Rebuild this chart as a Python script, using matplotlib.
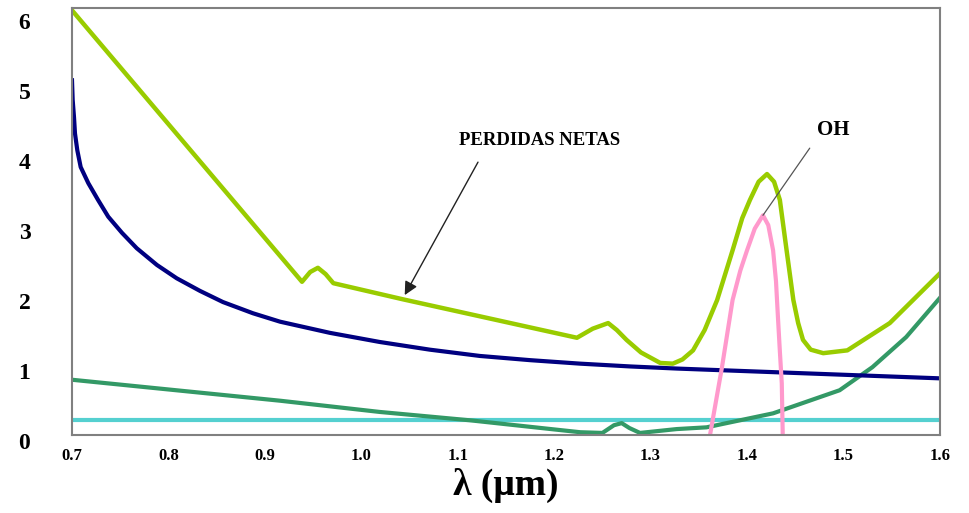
import numpy as np
import matplotlib
matplotlib.use('Agg')
import matplotlib.pyplot as plt
import matplotlib.transforms as mtransforms

SERIF = ['Liberation Serif', 'DejaVu Serif']

# perdidas netas (total)
totalX = [0.7, 0.9385, 0.947, 0.955, 0.963, 0.971, 1.043, 1.2236, 1.24, 1.256, 1.265, 1.275, 1.29, 1.31,
          1.323, 1.333, 1.344, 1.356, 1.369, 1.385, 1.395, 1.403, 1.412, 1.4207, 1.428, 1.434, 1.441,
          1.448, 1.453, 1.458, 1.466, 1.479, 1.504, 1.548, 1.6]
totalY = [6.07, 2.19, 2.33, 2.39, 2.3, 2.17, 1.94, 1.39, 1.52, 1.6, 1.5, 1.36, 1.18, 1.03,
          1.02, 1.08, 1.21, 1.5, 1.93, 2.64, 3.1, 3.36, 3.62, 3.73, 3.62, 3.36, 2.64,
          1.93, 1.6, 1.36, 1.22, 1.17, 1.21, 1.6, 2.31]

# Rayleigh
rayX = [0.7, 0.7007, 0.7021, 0.7031, 0.7055, 0.709, 0.7169, 0.727, 0.7376, 0.7518, 0.7671, 0.7881,
        0.8086, 0.8327, 0.8566, 0.8877, 0.9157, 0.9675, 1.019, 1.071, 1.123, 1.175, 1.227, 1.279,
        1.327, 1.444, 1.6]
rayY = [5.07, 4.79, 4.54, 4.31, 4.07, 3.83, 3.6, 3.36, 3.12, 2.89, 2.67, 2.43,
        2.24, 2.06, 1.90, 1.74, 1.62, 1.46, 1.33, 1.22, 1.13, 1.07, 1.02, 0.98,
        0.95, 0.89, 0.81]

# absorcion IR / UV
irX = [0.7, 0.916, 1.019, 1.113, 1.2, 1.227, 1.25, 1.262, 1.27, 1.278, 1.289, 1.327, 1.358, 1.427, 1.496,
       1.53, 1.565, 1.6]
irY = [0.79, 0.49, 0.33, 0.21, 0.08, 0.04, 0.03, 0.14, 0.17, 0.1, 0.03, 0.085, 0.11, 0.31, 0.64,
       0.97, 1.4, 1.96]

# imperfecciones (constante)
impX = [0.7, 1.6]
impY = [0.22, 0.22]

# OH
ohX = [1.3616, 1.374, 1.385, 1.393, 1.400, 1.408, 1.4165, 1.422, 1.427, 1.430, 1.432, 1.434, 1.436, 1.437]
ohY = [0.0, 0.97, 1.93, 2.35, 2.64, 2.95, 3.14, 3.0, 2.64, 2.2, 1.69, 1.2, 0.74, 0.0]

xticks = [0.7, 0.8, 0.9, 1.0, 1.1, 1.2, 1.3, 1.4, 1.5, 1.6]
xtickLabels = ['0.7', '0.8', '0.9', '1.0', '1.1', '1.2', '1.3', '1.4', '1.5', '1.6']
yticks = [0, 1, 2, 3, 4, 5, 6]

fig = plt.figure(figsize=(9.69, 5.13), dpi=100)
ax = fig.add_axes([0.0743, 0.152, 0.8957, 0.832])

ax.plot(impX, impY, color='#55d0d0', lw=3, solid_capstyle='butt')
ax.plot(irX, irY, color='#339966', lw=3)
ax.plot(rayX, rayY, color='#000080', lw=3)
ax.plot(ohX, ohY, color='#ff99cc', lw=3)
ax.plot(totalX, totalY, color='#99cc00', lw=3.2)

ax.set_xlim(0.7, 1.6)
ax.set_ylim(0, 6.1)
ax.set_xticks(xticks)
ax.set_xticklabels(xtickLabels, family=SERIF, fontweight='bold', fontsize=12)
ax.set_yticks(yticks)
ax.set_yticklabels([str(v) for v in yticks], family=SERIF, fontweight='bold', fontsize=17)
ax.tick_params(axis='y', length=0, pad=30)
ax.tick_params(axis='x', length=0, pad=9)
# labels sit a bit lower than their gridline in the original
shift = mtransforms.ScaledTranslation(0, -6 / 100, fig.dpi_scale_trans)
for lab in ax.get_yticklabels():
    lab.set_transform(lab.get_transform() + shift)
for s in ax.spines.values():
    s.set_color('#808080')
    s.set_linewidth(1.5)

ax.set_xlabel('λ (μm)', family=SERIF, fontweight='bold', fontsize=27, labelpad=3)

ax.text(1.185, 4.21, 'PERDIDAS NETAS', family=SERIF, fontweight='bold', fontsize=13.5,
        ha='center', va='center')
ax.annotate('', xy=(1.045, 2.0), xytext=(1.121, 3.9),
            arrowprops=dict(arrowstyle='-|>', color='#222222', lw=1, mutation_scale=20,
                            shrinkA=0, shrinkB=0))
ax.text(1.489, 4.36, 'OH', family=SERIF, fontweight='bold', fontsize=15, ha='center', va='center')
ax.annotate('', xy=(1.4165, 3.14), xytext=(1.465, 4.1),
            arrowprops=dict(arrowstyle='-', color='#555555', lw=0.9, shrinkA=0, shrinkB=0))

fig.savefig('out.png', dpi=100)
